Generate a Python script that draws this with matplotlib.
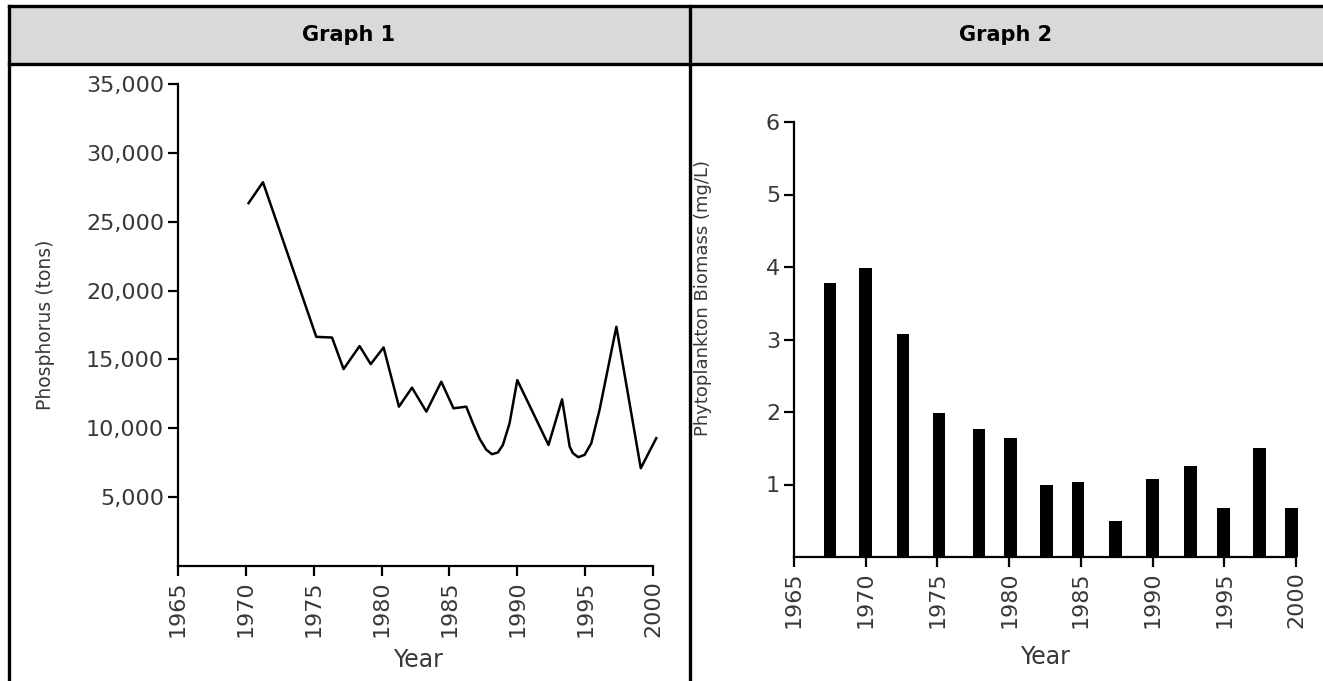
import matplotlib.pyplot as plt
from matplotlib.patches import Rectangle
from matplotlib.lines import Line2D

# Graph 1: phosphorus load (tons) by year
p_years = [1970.2, 1971.26, 1975.19, 1976.35, 1977.2, 1978.38, 1979.2, 1980.15,
           1981.28, 1982.24, 1983.3, 1984.4, 1985.3, 1986.24, 1986.73, 1987.22,
           1987.71, 1988.13, 1988.57, 1988.94, 1989.43, 1990.0, 1992.3, 1993.3,
           1993.86, 1994.1, 1994.5, 1994.96, 1995.45, 1996.06, 1997.3, 1999.1, 2000.24]
p_tons = [26350, 27870, 16640, 16590, 14300, 15970, 14660, 15870,
          11570, 12950, 11210, 13380, 11450, 11570, 10360, 9250,
          8450, 8120, 8240, 8790, 10360, 13500, 8790, 12100,
          8670, 8190, 7900, 8070, 8910, 11330, 17370, 7100, 9280]

# Graph 2: phytoplankton biomass (mg/L)
b_years = [1967.5, 1970, 1972.6, 1975.1, 1977.9, 1980.1, 1982.6, 1984.8,
           1987.4, 1990, 1992.65, 1994.95, 1997.45, 1999.7]
b_mass = [3.78, 3.98, 3.07, 1.99, 1.76, 1.64, 1.0, 1.04, 0.49, 1.08, 1.26, 0.68, 1.51, 0.68]

x_ticks = [1965, 1970, 1975, 1980, 1985, 1990, 1995, 2000]
p_ticks = [5000, 10000, 15000, 20000, 25000, 30000, 35000]
b_ticks = [1, 2, 3, 4, 5, 6]

W, H = 1323, 681
fig = plt.figure(figsize=(W / 100, H / 100), dpi=100)
plt.rcParams['font.family'] = 'DejaVu Sans'
tick_col = '#383838'

# table frame with grey header row
fig.add_artist(Rectangle((9 / W, 1 - 64 / H), 1 - 9 / W, 58 / H, transform=fig.transFigure,
                         facecolor='#d9d9d9', edgecolor='none'))
lw_tab = 2.4
fig.add_artist(Line2D([9 / W, 1], [1 - 6 / H, 1 - 6 / H], color='black', lw=lw_tab))
fig.add_artist(Line2D([9 / W, 1], [1 - 64 / H, 1 - 64 / H], color='black', lw=lw_tab))
fig.add_artist(Line2D([9 / W, 9 / W], [0, 1 - 6 / H], color='black', lw=lw_tab))
fig.add_artist(Line2D([690 / W, 690 / W], [0, 1 - 6 / H], color='black', lw=lw_tab))
fig.text(349 / W, 1 - 35 / H, 'Graph 1', ha='center', va='center', fontsize=15, fontweight='bold')
fig.text(1006 / W, 1 - 35 / H, 'Graph 2', ha='center', va='center', fontsize=15, fontweight='bold')


def style(ax):
    for s in ['top', 'right']:
        ax.spines[s].set_visible(False)
    for s in ['left', 'bottom']:
        ax.spines[s].set_linewidth(1.6)
    ax.tick_params(width=1.6, length=7, labelcolor=tick_col, pad=3)
    ax.tick_params(axis='y', labelsize=16)
    ax.tick_params(axis='x', labelsize=16)
    ax.set_xlim(1965, 2000)
    ax.set_xticks(x_ticks)
    ax.set_xticklabels([str(t) for t in x_ticks], rotation=90)
    ax.set_xlabel('Year', fontsize=17, color=tick_col)


ax1 = fig.add_axes([178 / W, 1 - 566 / H, (653 - 178) / W, (566 - 84) / H])
ax1.patch.set_alpha(0)
ax1.plot(p_years, p_tons, color='black', lw=1.8, clip_on=False)
style(ax1)
ax1.set_ylim(0, 35000)
ax1.set_yticks(p_ticks)
ax1.set_yticklabels([f'{t:,}' for t in p_ticks])
ax1.set_ylabel('Phosphorus (tons)', fontsize=13.5, color=tick_col)
ax1.yaxis.set_label_coords(-0.259, 0.5)
ax1.xaxis.set_label_coords(0.505, -0.17)

ax2 = fig.add_axes([794 / W, 1 - 557 / H, (1296 - 794) / W, (557 - 122) / H])
ax2.patch.set_alpha(0)
ax2.bar(b_years, b_mass, width=0.87, color='black', clip_on=False)
style(ax2)
ax2.set_ylim(0, 6)
ax2.set_yticks(b_ticks)
ax2.set_ylabel('Phytoplankton Biomass (mg/L)', fontsize=13, color=tick_col)
ax2.yaxis.set_label_coords(-0.163, 0.595)
ax2.xaxis.set_label_coords(0.5, -0.202)

fig.savefig('out.png', dpi=100)
